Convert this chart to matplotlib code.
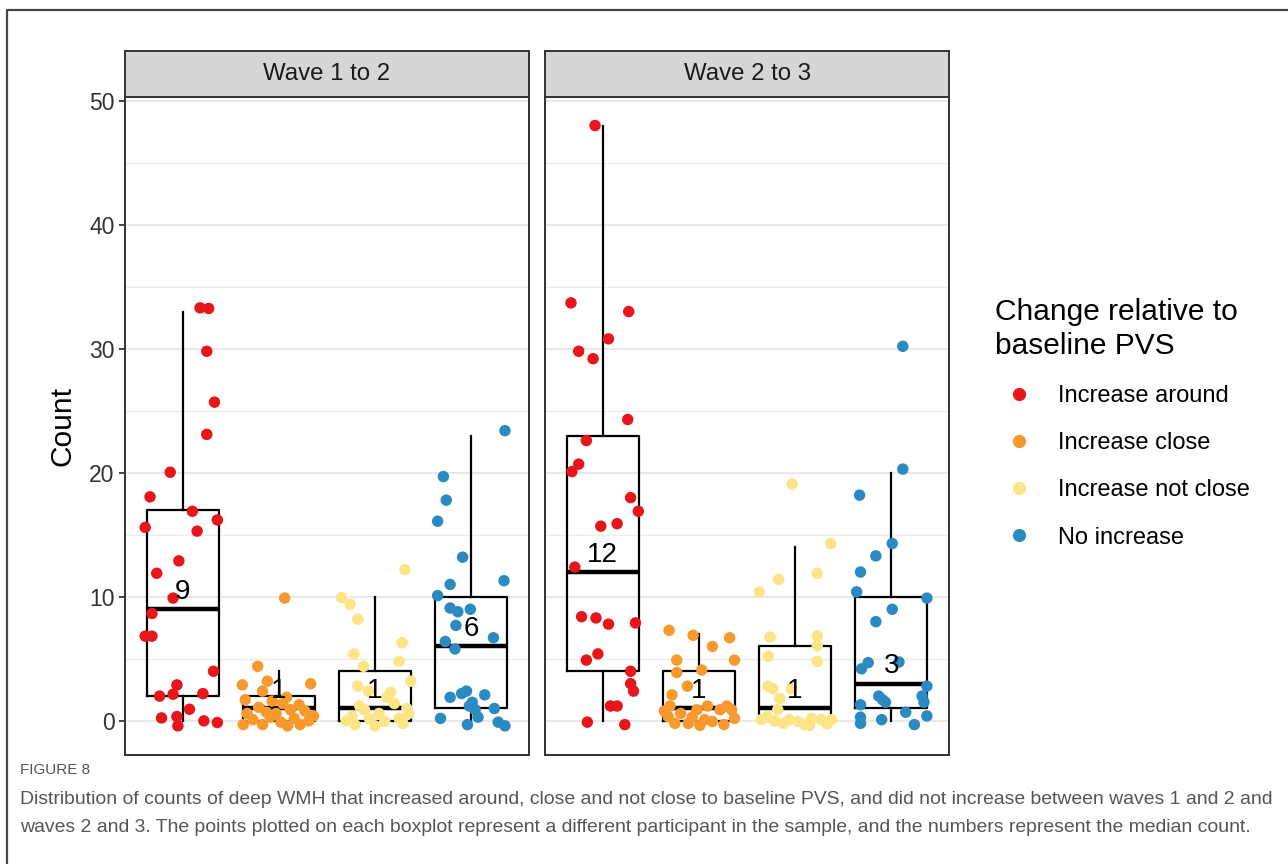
import matplotlib.pyplot as plt
from matplotlib.lines import Line2D

plt.rcParams['font.family'] = ['Liberation Sans', 'DejaVu Sans']

groups = ['Increase around', 'Increase close', 'Increase not close', 'No increase']
colors = ['#E8161B', '#F8992E', '#FDE487', '#2C8AC3']
waves = ['Wave 1 to 2', 'Wave 2 to 3']

# box stats: (lower whisker, q1, median, q3, upper whisker)
w12_box = [(0, 2, 9, 17, 33), (0, 0, 1, 2, 4), (0, 0, 1, 4, 10), (0, 1, 6, 10, 23)]
w23_box = [(0, 4, 12, 23, 48), (0, 0, 1, 4, 7), (0, 0, 1, 6, 14), (0, 1, 3, 10, 20)]

# wave 1 to 2 points (jittered counts) and horizontal jitter
w12_around = [33.3, 33.25, 29.8, 25.7, 23.1, 20.05, 18.06, 16.9, 16.2, 15.6, 15.3, 12.9, 11.9, 9.9,
              8.66, 6.83, 6.83, 4.0, 2.9, 2.0, 2.15, 2.2, 0.94, 0.24, 0.35, -0.4, 0.0, -0.13]
w12_around_jit = [0.18, 0.27, 0.25, 0.33, 0.25, -0.13, -0.34, 0.10, 0.36, -0.39, 0.15, -0.04, -0.27, -0.10,
                  -0.32, -0.39, -0.32, 0.32, -0.06, -0.24, -0.10, 0.21, 0.07, -0.22, -0.06, -0.05, 0.22, 0.36]
w12_close = [9.9, 4.4, 2.9, 3.2, 3.0, 2.4, 1.9, 1.7, 1.6, 1.4, 1.3, 1.1, 0.9, 0.6, 0.7, 0.8, 0.1, 0.3,
             -0.1, 0.2, 0.0, -0.3, -0.3, -0.4, -0.3, 0.4, 0.6]
w12_close_jit = [0.06, -0.22, -0.38, -0.12, 0.33, -0.17, 0.08, -0.35, -0.07, 0.04, 0.21, -0.21, 0.12, -0.33,
                 -0.13, 0.27, -0.27, -0.09, 0.02, 0.16, 0.31, -0.37, -0.17, 0.09, 0.22, 0.36, -0.03]
w12_notclose = [9.95, 9.4, 8.2, 12.2, 6.3, 5.4, 4.8, 4.4, 3.2, 2.8, 2.3, 1.9, 2.4, 1.2, 0.6, 1.0, 0.35,
                -0.3, 0.2, -0.05, 0.2, 0.6, 0.9, 1.4, -0.4, 0.0, -0.2]
w12_notclose_jit = [-0.35, -0.26, -0.18, 0.31, 0.28, -0.22, 0.25, -0.12, 0.37, -0.18, 0.16, 0.12, -0.07, -0.16,
                    0.04, 0.33, -0.24, -0.21, -0.06, 0.10, 0.25, 0.35, -0.11, 0.20, 0.00, -0.30, 0.29]
w12_none = [23.4, 19.7, 17.8, 16.1, 13.2, 11.0, 11.3, 10.1, 9.1, 8.8, 9.0, 7.7, 6.7, 6.4, 5.8, 1.9, 2.4,
            2.1, 1.5, 0.9, 1.0, 0.3, 0.2, -0.3, -0.1, -0.4, 2.2, 1.2]
w12_none_jit = [0.35, -0.29, -0.26, -0.35, -0.09, -0.22, 0.34, -0.35, -0.22, -0.14, -0.01, -0.16, 0.23, -0.27,
                -0.17, -0.22, -0.05, 0.14, 0.01, 0.04, 0.24, 0.07, -0.32, -0.04, 0.28, 0.35, -0.10, -0.02]

# wave 2 to 3
w23_around = [48.0, 33.7, 33.0, 30.8, 29.8, 29.2, 24.3, 22.6, 20.7, 20.1, 18.0, 16.9, 15.7, 15.9, 12.4,
              8.4, 8.3, 7.8, 7.9, 4.9, 5.4, 4.0, 3.0, 2.4, 1.2, 1.2, -0.1, -0.3]
w23_around_jit = [-0.08, -0.33, 0.27, 0.06, -0.25, -0.10, 0.26, -0.17, -0.25, -0.32, 0.29, 0.37, -0.02, 0.15,
                  -0.29, -0.22, -0.07, 0.06, 0.34, -0.17, -0.05, 0.29, 0.29, 0.32, 0.08, 0.15, -0.16, 0.23]
w23_close = [7.3, 6.9, 6.7, 6.0, 4.9, 4.9, 3.9, 4.1, 2.8, 2.1, 1.2, 1.2, 0.9, 1.2, 0.9, 0.35, -0.2, 0.1,
             -0.05, 0.2, -0.2, 0.9, 0.6, 0.3, -0.3, 0.8, -0.35]
w23_close_jit = [-0.31, -0.06, 0.32, 0.14, 0.37, -0.23, -0.23, 0.03, -0.12, -0.28, -0.30, 0.09, -0.02, 0.29,
                 0.34, -0.32, -0.11, 0.06, 0.14, 0.37, -0.25, 0.22, -0.19, -0.07, 0.26, -0.36, 0.01]
w23_notclose = [19.1, 14.3, 11.9, 11.4, 10.4, 6.75, 6.85, 6.05, 5.2, 4.8, 2.8, 2.6, 2.6, 1.8, 0.9, 0.1,
                0.1, -0.05, 0.2, 0.1, 0.1, 0.35, -0.3, -0.25, -0.2, 0.0, -0.35]
w23_notclose_jit = [-0.03, 0.37, 0.23, -0.17, -0.37, -0.26, 0.23, 0.23, -0.28, 0.23, -0.28, -0.23, -0.04, -0.16,
                    -0.18, -0.35, -0.06, 0.03, 0.17, 0.27, 0.38, -0.29, 0.10, 0.33, -0.12, -0.21, 0.15]
w23_none = [30.2, 20.3, 18.2, 14.3, 13.3, 12.0, 10.4, 9.9, 9.0, 8.0, 4.7, 4.2, 4.75, 2.8, 2.0, 2.0, 1.5,
            1.3, 0.7, 0.4, 0.3, 0.1, -0.3, 1.5, 1.7, -0.2]
w23_none_jit = [0.12, 0.12, -0.33, 0.01, -0.16, -0.32, -0.36, 0.37, 0.01, -0.16, -0.24, -0.31, 0.08, 0.37,
                0.32, -0.13, -0.06, -0.32, 0.15, 0.37, -0.32, -0.10, 0.24, 0.34, -0.09, -0.32]

panels = [
    (w12_box, [(w12_around, w12_around_jit), (w12_close, w12_close_jit),
               (w12_notclose, w12_notclose_jit), (w12_none, w12_none_jit)]),
    (w23_box, [(w23_around, w23_around_jit), (w23_close, w23_close_jit),
               (w23_notclose, w23_notclose_jit), (w23_none, w23_none_jit)]),
]

caption_lines = [
    'Distribution of counts of deep WMH that increased around, close and not close to baseline PVS, '
    'and did not increase between waves 1 and 2 and',
    'waves 2 and 3. The points plotted on each boxplot represent a different participant in the '
    'sample, and the numbers represent the median count.',
]

fig = plt.figure(figsize=(12.88, 8.64), dpi=100)

# outer frame of the page (top and left edges)
fig.add_artist(Line2D([7 / 1288, 7 / 1288, 1.0], [0.0, 1 - 10 / 864, 1 - 10 / 864],
                      transform=fig.transFigure, color='#444444', lw=1.6))

lefts = [125 / 1288, 545 / 1288]
pw = 404 / 1288
bottom = 1 - 755 / 864
ph = (755 - 97) / 864
sh = 46 / 864

for i, (boxes, pts) in enumerate(panels):
    ax = fig.add_axes([lefts[i], bottom, pw, ph])
    ax.set_xlim(0.4, 4.6)
    ax.set_ylim(-2.75, 50.3)
    ax.set_yticks(range(0, 51, 10))
    ax.set_yticks(range(5, 50, 10), minor=True)
    ax.grid(axis='y', which='major', color='#e6e6e6', lw=1.3, zorder=0)
    ax.grid(axis='y', which='minor', color='#ececec', lw=1.0, zorder=0)
    ax.set_axisbelow(True)
    ax.set_xticks([])
    for s in ax.spines.values():
        s.set_color('#333333')
        s.set_linewidth(1.4)
    if i == 0:
        ax.tick_params(axis='y', which='major', length=4.5, width=1.3, color='#333333',
                       labelsize=16.5, labelcolor='#333333', pad=3)
        ax.tick_params(axis='y', which='minor', length=0)
    else:
        ax.tick_params(axis='y', which='both', length=0, labelleft=False)

    stats = [dict(whislo=b[0], q1=b[1], med=b[2], q3=b[3], whishi=b[4]) for b in boxes]
    ax.bxp(stats, positions=[1, 2, 3, 4], widths=0.75, showfliers=False, showcaps=False,
           boxprops=dict(color='black', linewidth=1.6),
           whiskerprops=dict(color='black', linewidth=1.6),
           medianprops=dict(color='black', linewidth=3.2, solid_capstyle='butt'),
           manage_ticks=False, zorder=2)

    for k, (vals, jit) in enumerate(pts):
        ax.scatter([k + 1 + j for j in jit], vals, s=68, color=colors[k],
                   edgecolors='none', zorder=3)

    for k, b in enumerate(boxes):
        ax.text(k + 1, b[2] + 0.85, str(b[2]), ha='center', va='baseline',
                fontsize=20, color='black', zorder=4)

    sax = fig.add_axes([lefts[i], bottom + ph, pw, sh])
    sax.set_facecolor('#d6d6d6')
    sax.set_xticks([])
    sax.set_yticks([])
    for s in sax.spines.values():
        s.set_color('#333333')
        s.set_linewidth(1.4)
    sax.text(0.5, 0.5, waves[i], ha='center', va='center', fontsize=17.3,
             color='#1a1a1a', transform=sax.transAxes)

fig.text(62 / 1288, 1 - 426 / 864, 'Count', rotation=90, ha='center', va='center', fontsize=21.5)

handles = [Line2D([], [], marker='o', linestyle='', markersize=9.5, markerfacecolor=c,
                  markeredgecolor='none') for c in colors]
leg = fig.legend(handles, groups, loc='upper left', bbox_to_anchor=(995 / 1288, 1 - 298 / 864),
                 frameon=False, title='Change relative to\nbaseline PVS', alignment='left',
                 fontsize=17, title_fontsize=21.5, handlelength=2.0, handletextpad=0.68,
                 labelspacing=1.07, borderpad=0, borderaxespad=0)
leg.get_title().set_linespacing(1.25)

fig.text(20 / 1288, 1 - 770 / 864, 'FIGURE 8', fontsize=11, color='#555555',
         va='center', ha='left')
cap_texts = []
for n, line in enumerate(caption_lines):
    cap_texts.append(fig.text(20 / 1288, 1 - (800 + 28 * n) / 864, line, fontsize=15,
                              color='#555555', va='center', ha='left'))

# shrink the caption so the first line spans the page width like in the source
fig.canvas.draw()
w = cap_texts[0].get_window_extent(fig.canvas.get_renderer()).width
for t in cap_texts:
    t.set_fontsize(15 * 1250 / w)

fig.savefig('out.png', dpi=100)
